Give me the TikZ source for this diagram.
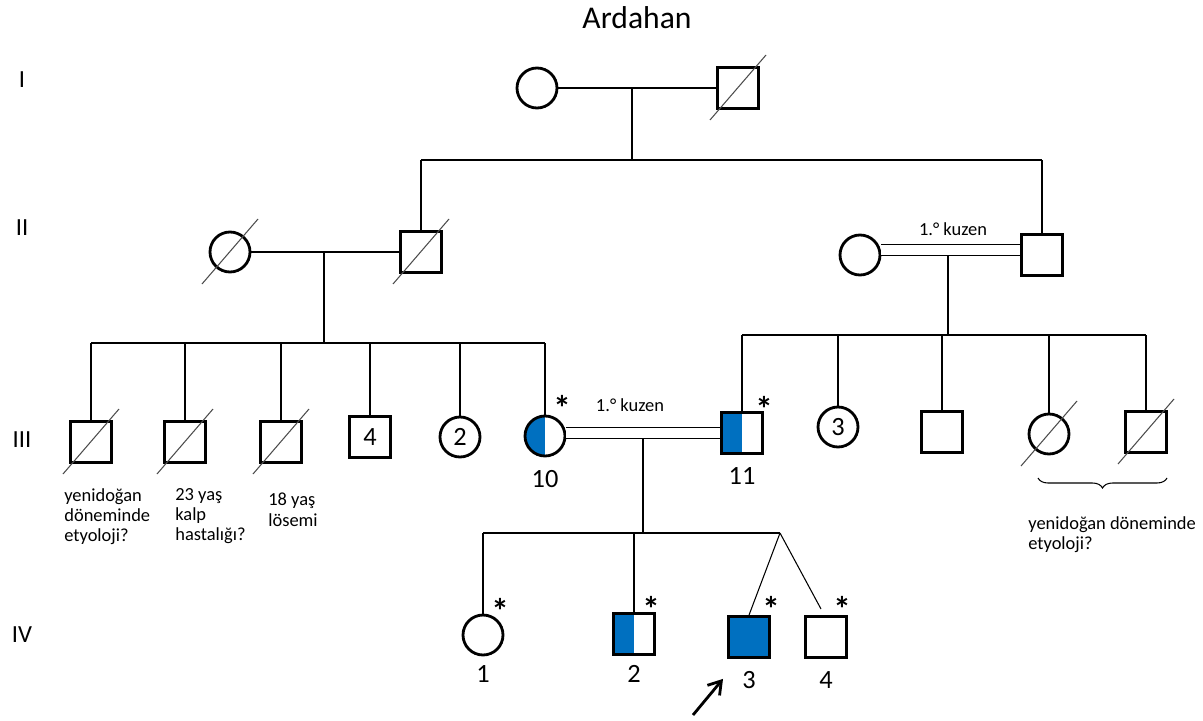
\documentclass[tikz,border=0pt]{standalone}
\usepackage{fontspec}
\setmainfont{Carlito}
\usepackage{tikz}
\usepackage{xcolor}
\usetikzlibrary{arrows.meta,decorations.pathreplacing,positioning}
\definecolor{affected-blue}{HTML}{0070C0}
\tikzset{
    person/.style = {draw, line width=1.6pt, inner sep=0pt, font=\fontsize{15}{15}\selectfont},
    male/.style = {person, rectangle, minimum size=0.82cm},
    female/.style = {person, circle, minimum size=0.8cm},
    affected/.style = {fill=affected-blue},
    carrier/.style = {path picture={\fill[affected-blue] (path picture bounding box.south west) rectangle (path picture bounding box.north);}},
    rel-line/.style = {line width=0.6pt},
    cons-line/.style = {double, double distance=0.2cm, line width=0.6pt},
    dead-line/.style = {black!70, line width=0.6pt},
    star-mark/.style = {inner sep=0pt, font=\fontsize{20}{20}\selectfont\bfseries},
    id-label/.style = {inner sep=0pt, font=\fontsize{15}{15}\selectfont},
    gen-label/.style = {inner sep=0pt, font=\fontsize{14}{14}\selectfont},
    note/.style = {inner sep=0pt, align=left, anchor=north west, font=\fontsize{10.5}{11.5}\selectfont},
}
\newcommand{\deceased}[1]{\draw[dead-line] ([shift={(-28,32)}]#1.center) -- ([shift={(28,-33)}]#1.center);}

\begin{document}
\begin{tikzpicture}[x=0.02cm, y=-0.02cm]
\useasboundingbox (0,0) rectangle (1203,720);

\node[inner sep=0pt, font=\fontsize{18}{18}\selectfont] (title) at (637,18) {Ardahan};

% generation labels
\node[gen-label] (g1) at (22,80) {I};
\node[gen-label] (g2) at (22,228) {II};
\node[gen-label] (g3) at (22,440) {III};
\node[gen-label] (g4) at (22,635) {IV};

% generation I
\node[female] (I1) at (537,88) {};
\node[male] (I2) at (738,88) {};
\deceased{I2}
\draw[rel-line] (I1) -- (I2);
\coordinate (m1) at (632,88);
\coordinate (s1) at (632,160);
\draw[rel-line] (m1) -- (s1);

% generation II
\node[female] (II1) at (230,252) {};
\node[male] (II2) at (421,252) {};
\node[female] (II3) at (860,255) {};
\node[male] (II4) at (1042,255) {};
\deceased{II1}
\deceased{II2}
\draw[rel-line] (II2 |- s1) -- (II4 |- s1);
\draw[rel-line] (II2 |- s1) -- (II2);
\draw[rel-line] (II4 |- s1) -- (II4);
\draw[rel-line] (II1) -- (II2);
\draw[cons-line] ([shift={(0,-5)}]II3.east) -- ([shift={(0,-5)}]II4.west);
\node[note, anchor=center] (k1) at (953,229) {1.° kuzen};
\coordinate (m2) at (324,252);
\coordinate (s2) at (324,343);
\draw[rel-line] (m2) -- (s2);
\coordinate (m3) at (948,255);
\coordinate (s3) at (948,335);
\draw[rel-line] (m3) -- (s3);

% generation III
\node[male] (III1) at (91,442) {};
\node[male] (III2) at (185,442) {};
\node[male] (III3) at (281,442) {};
\node[male] (III4) at (370,437) {4};
\node[female] (III5) at (460,437) {2};
\node[female, carrier] (III6) at (545,436) {};
\node[male, carrier] (III7) at (742,433) {};
\node[female] (III8) at (838,427) {3};
\node[male] (III9) at (942,432) {};
\node[female] (III10) at (1049,434) {};
\node[male] (III11) at (1146,432) {};
\foreach \p in {III1,III2,III3,III10,III11} {\deceased{\p}}
\draw[rel-line] (III1 |- s2) -- (III6 |- s2);
\foreach \p in {III1,III2,III3,III4,III5,III6}
    \draw[rel-line] (\p |- s2) -- (\p);
\draw[rel-line] (III7 |- s3) -- (III11 |- s3);
\foreach \p in {III7,III8,III9,III10,III11}
    \draw[rel-line] (\p |- s3) -- (\p);
\draw[cons-line] ([shift={(0,-3)}]III6.east) -- (III7.west);
\node[note, anchor=center] (k2) at (630,405) {1.° kuzen};
\node[star-mark] (st6) at ([shift={(17,-28)}]III6.center) {*};
\node[star-mark] (st7) at ([shift={(22,-24)}]III7.center) {*};
\node[id-label, below=7pt] (l10) at (III6.south) {10};
\node[id-label, below=7pt] (l11) at (III7.south) {11};

\node[note] (n1) at (64,488) {yenidoğan\\döneminde\\etyoloji?};
\node[note] (n2) at (175,488) {23 yaş\\kalp\\hastalığı?};
\node[note] (n3) at (268,493) {18 yaş\\lösemi};
\draw[rel-line, decorate, decoration={brace, mirror, amplitude=0.2cm}] (1038,478) -- (1167,478);
\node[note] (n4) at (1028,516) {yenidoğan döneminde\\etyoloji?};

% generation IV
\coordinate (m4) at (643,438);
\coordinate (s4) at (643,533);
\coordinate (tw) at (780,533);
\coordinate (tw-end) at (821,609);
\draw[rel-line] (m4) -- (s4);
\node[female] (IV1) at (483,635) {};
\node[male, carrier] (IV2) at (634,634) {};
\node[male, affected] (IV3) at (749,637) {};
\node[male] (IV4) at (826,637) {};
\draw[rel-line] (IV1 |- s4) -- (tw);
\draw[rel-line] (IV1 |- s4) -- (IV1);
\draw[rel-line] (IV2 |- s4) -- (IV2);
\draw[rel-line] (tw) -- (IV3.north);
\draw[rel-line] (tw) -- (tw-end);
\node[star-mark] (st1) at ([shift={(17,-24)}]IV1.center) {*};
\node[star-mark] (st2) at ([shift={(17,-25)}]IV2.center) {*};
\node[star-mark] (st3) at ([shift={(22,-28)}]IV3.center) {*};
\node[star-mark] (st4) at ([shift={(16,-28)}]IV4.center) {*};
\node[id-label, below=5pt] (l1) at (IV1.south) {1};
\node[id-label, below=5pt] (l2) at (IV2.south) {2};
\node[id-label, below=7pt] (l3) at (IV3.south) {3};
\node[id-label, below=7pt] (l4) at (IV4.south) {4};
\coordinate (arr-start) at (693,715);
\draw[line width=1.6pt, -{Straight Barb[length=7pt, width=9pt]}] (arr-start) -- ([shift={(-26,20)}]IV3.south);
\end{tikzpicture}
\end{document}
